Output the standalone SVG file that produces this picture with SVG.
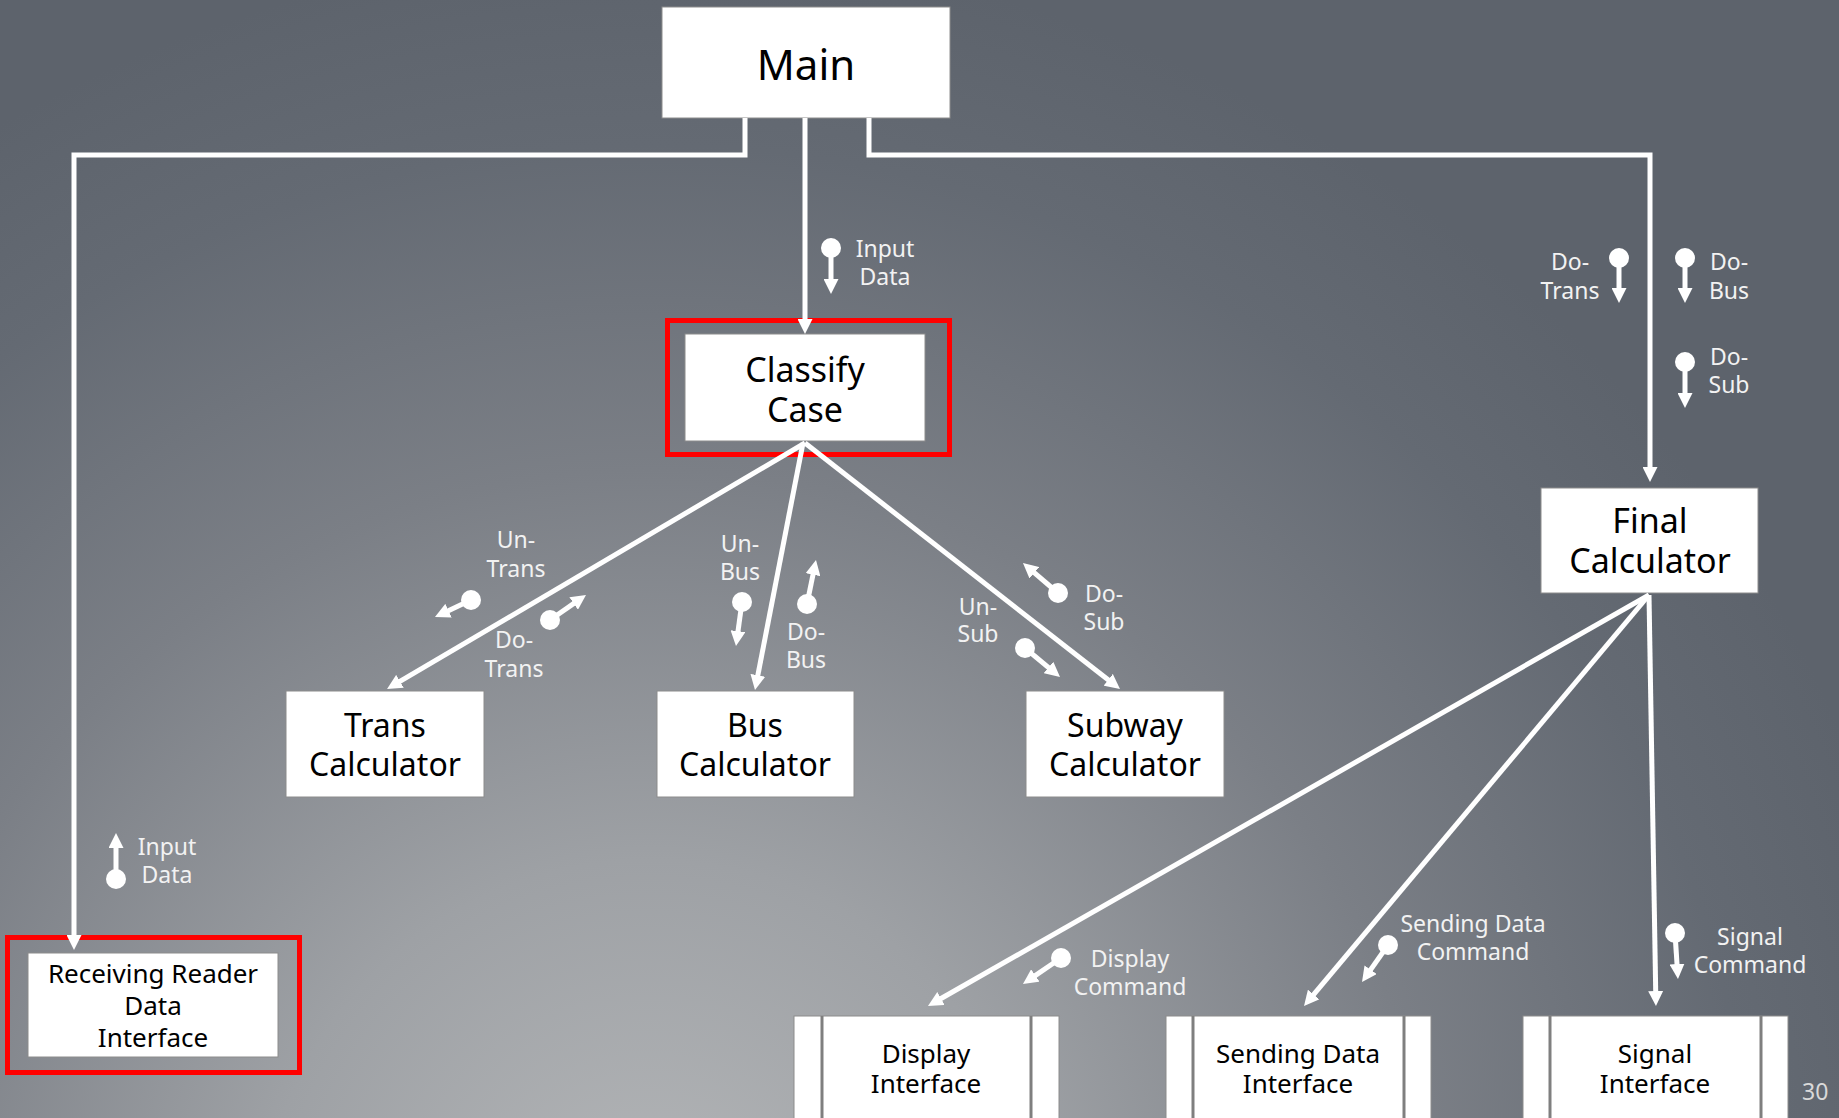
<svg xmlns="http://www.w3.org/2000/svg" width="1839" height="1118" viewBox="0 0 1839 1118">
  <defs>
    <radialGradient id="bg" gradientUnits="userSpaceOnUse" cx="650" cy="1250" r="1300">
      <stop offset="0" stop-color="#b5b7b9"/>
      <stop offset="0.3" stop-color="#9ea1a5"/>
      <stop offset="0.6" stop-color="#7b7f86"/>
      <stop offset="0.85" stop-color="#646a73"/>
      <stop offset="1" stop-color="#5d636c"/>
    </radialGradient>
    <marker id="arrow" viewBox="0 0 10 10" refX="4" refY="5" markerWidth="3" markerHeight="3" markerUnits="strokeWidth" orient="auto">
      <path d="M0,0 L10,5 L0,10 z" fill="#ffffff"/>
    </marker>
    <style>
      .box { fill: #ffffff; stroke: #8c8c8c; stroke-width: 1; }
      .hl { fill: none; stroke: #ff0000; stroke-width: 5; }
      .sep { stroke: #7f7f7f; stroke-width: 3; }
      .conn { fill: none; stroke: #ffffff; stroke-width: 5; }
      .pin { stroke: #ffffff; stroke-width: 5; }
      .dot { fill: #ffffff; }
      .node { font-family: "Noto Sans", "Open Sans", sans-serif; fill: #000000; text-anchor: middle; }
      .lbl { font-family: "Noto Sans", "Open Sans", sans-serif; font-size: 23px; fill: #f2f2f2; text-anchor: middle; }
    </style>
  </defs>

  <rect x="0" y="0" width="1839" height="1118" fill="url(#bg)"/>

  <!-- module boxes -->
  <g id="main">
    <rect class="box" x="662" y="7" width="288" height="111"/>
    <text class="node" x="806" y="80" font-size="42">Main</text>
  </g>

  <g id="classify-case">
    <rect class="hl" x="667.5" y="320.5" width="282" height="134"/>
    <rect class="box" x="685" y="334" width="240" height="107"/>
    <text class="node" x="805" y="382" font-size="34">Classify</text>
    <text class="node" x="805" y="422" font-size="34">Case</text>
  </g>

  <g id="trans-calculator">
    <rect class="box" x="286" y="691" width="198" height="106"/>
    <text class="node" x="385" y="737" font-size="32">Trans</text>
    <text class="node" x="385" y="776" font-size="32">Calculator</text>
  </g>

  <g id="bus-calculator">
    <rect class="box" x="657" y="691" width="197" height="106"/>
    <text class="node" x="755" y="737" font-size="32">Bus</text>
    <text class="node" x="755" y="776" font-size="32">Calculator</text>
  </g>

  <g id="subway-calculator">
    <rect class="box" x="1026" y="691" width="198" height="106"/>
    <text class="node" x="1125" y="737" font-size="32">Subway</text>
    <text class="node" x="1125" y="776" font-size="32">Calculator</text>
  </g>

  <g id="final-calculator">
    <rect class="box" x="1541" y="488" width="217" height="105"/>
    <text class="node" x="1650" y="533" font-size="34">Final</text>
    <text class="node" x="1650" y="573" font-size="34">Calculator</text>
  </g>

  <g id="receiving-reader-data-interface">
    <rect class="hl" x="7.5" y="937.5" width="292" height="135"/>
    <rect class="box" x="28" y="953" width="250" height="104"/>
    <text class="node" x="153" y="983" font-size="26">Receiving Reader</text>
    <text class="node" x="153" y="1015" font-size="26">Data</text>
    <text class="node" x="153" y="1047" font-size="26">Interface</text>
  </g>

  <g id="display-interface">
    <rect class="box" x="794" y="1016" width="265" height="110"/>
    <line class="sep" x1="822" y1="1016" x2="822" y2="1118"/>
    <line class="sep" x1="1031" y1="1016" x2="1031" y2="1118"/>
    <text class="node" x="926" y="1063" font-size="26">Display</text>
    <text class="node" x="926" y="1093" font-size="26">Interface</text>
  </g>

  <g id="sending-data-interface">
    <rect class="box" x="1166" y="1016" width="265" height="110"/>
    <line class="sep" x1="1193" y1="1016" x2="1193" y2="1118"/>
    <line class="sep" x1="1404" y1="1016" x2="1404" y2="1118"/>
    <text class="node" x="1298" y="1063" font-size="26">Sending Data</text>
    <text class="node" x="1298" y="1093" font-size="26">Interface</text>
  </g>

  <g id="signal-interface">
    <rect class="box" x="1523" y="1016" width="265" height="110"/>
    <line class="sep" x1="1550" y1="1016" x2="1550" y2="1118"/>
    <line class="sep" x1="1761" y1="1016" x2="1761" y2="1118"/>
    <text class="node" x="1655" y="1063" font-size="26">Signal</text>
    <text class="node" x="1655" y="1093" font-size="26">Interface</text>
  </g>

  <!-- call connectors -->
  <g id="connectors">
    <path class="conn" d="M805,118 V325" marker-end="url(#arrow)"/>
    <path class="conn" d="M745,118 V155 H74 V941" marker-end="url(#arrow)"/>
    <path class="conn" d="M869,118 V155 H1650 V473" marker-end="url(#arrow)"/>
    <path class="conn" d="M805,443 L394.8,684.4" marker-end="url(#arrow)"/>
    <path class="conn" d="M803,443 L756.7,681.2" marker-end="url(#arrow)"/>
    <path class="conn" d="M805,443 L1112.9,683.5" marker-end="url(#arrow)"/>
    <path class="conn" d="M1649,595 L935.8,1001.5" marker-end="url(#arrow)"/>
    <path class="conn" d="M1649,595 L1309.8,999.1" marker-end="url(#arrow)"/>
    <path class="conn" d="M1649,595 L1655.8,997" marker-end="url(#arrow)"/>
  </g>

  <!-- data couples -->
  <g id="couples">
    <g>
      <line class="pin" x1="831" y1="248" x2="831" y2="285" marker-end="url(#arrow)"/>
      <circle class="dot" cx="831" cy="248" r="10"/>
      <text class="lbl" x="885" y="257">Input</text>
      <text class="lbl" x="885" y="285">Data</text>
    </g>
    <g>
      <line class="pin" x1="116" y1="879" x2="116" y2="842" marker-end="url(#arrow)"/>
      <circle class="dot" cx="116" cy="879" r="10"/>
      <text class="lbl" x="167" y="855">Input</text>
      <text class="lbl" x="167" y="883">Data</text>
    </g>
    <g>
      <line class="pin" x1="471" y1="600" x2="443.1" y2="613.2" marker-end="url(#arrow)"/>
      <circle class="dot" cx="471" cy="600" r="10"/>
      <text class="lbl" x="516" y="548">Un-</text>
      <text class="lbl" x="516" y="577">Trans</text>
    </g>
    <g>
      <line class="pin" x1="550" y1="620" x2="578.6" y2="600.1" marker-end="url(#arrow)"/>
      <circle class="dot" cx="550" cy="620" r="10"/>
      <text class="lbl" x="514" y="648">Do-</text>
      <text class="lbl" x="514" y="677">Trans</text>
    </g>
    <g>
      <line class="pin" x1="742" y1="602" x2="737.2" y2="637.1" marker-end="url(#arrow)"/>
      <circle class="dot" cx="742" cy="602" r="10"/>
      <text class="lbl" x="740" y="552">Un-</text>
      <text class="lbl" x="740" y="580">Bus</text>
    </g>
    <g>
      <line class="pin" x1="807" y1="604" x2="814.2" y2="568.8" marker-end="url(#arrow)"/>
      <circle class="dot" cx="807" cy="604" r="10"/>
      <text class="lbl" x="806" y="640">Do-</text>
      <text class="lbl" x="806" y="668">Bus</text>
    </g>
    <g>
      <line class="pin" x1="1058" y1="593" x2="1029.8" y2="568.9" marker-end="url(#arrow)"/>
      <circle class="dot" cx="1058" cy="593" r="10"/>
      <text class="lbl" x="1104" y="602">Do-</text>
      <text class="lbl" x="1104" y="630">Sub</text>
    </g>
    <g>
      <line class="pin" x1="1025" y1="648" x2="1053.1" y2="671.3" marker-end="url(#arrow)"/>
      <circle class="dot" cx="1025" cy="648" r="10"/>
      <text class="lbl" x="978" y="615">Un-</text>
      <text class="lbl" x="978" y="642">Sub</text>
    </g>
    <g>
      <line class="pin" x1="1619" y1="258" x2="1619" y2="294" marker-end="url(#arrow)"/>
      <circle class="dot" cx="1619" cy="258" r="10"/>
      <text class="lbl" x="1570" y="270">Do-</text>
      <text class="lbl" x="1570" y="299">Trans</text>
    </g>
    <g>
      <line class="pin" x1="1685" y1="258" x2="1685" y2="294" marker-end="url(#arrow)"/>
      <circle class="dot" cx="1685" cy="258" r="10"/>
      <text class="lbl" x="1729" y="270">Do-</text>
      <text class="lbl" x="1729" y="299">Bus</text>
    </g>
    <g>
      <line class="pin" x1="1685" y1="362" x2="1685" y2="399" marker-end="url(#arrow)"/>
      <circle class="dot" cx="1685" cy="362" r="10"/>
      <text class="lbl" x="1729" y="365">Do-</text>
      <text class="lbl" x="1729" y="393">Sub</text>
    </g>
    <g>
      <line class="pin" x1="1061" y1="958" x2="1030.4" y2="978.9" marker-end="url(#arrow)"/>
      <circle class="dot" cx="1061" cy="958" r="10"/>
      <text class="lbl" x="1130" y="967">Display</text>
      <text class="lbl" x="1130" y="995">Command</text>
    </g>
    <g>
      <line class="pin" x1="1388" y1="945" x2="1367.2" y2="974.6" marker-end="url(#arrow)"/>
      <circle class="dot" cx="1388" cy="945" r="10"/>
      <text class="lbl" x="1473" y="932">Sending Data</text>
      <text class="lbl" x="1473" y="960">Command</text>
    </g>
    <g>
      <line class="pin" x1="1675" y1="933" x2="1677.4" y2="970" marker-end="url(#arrow)"/>
      <circle class="dot" cx="1675" cy="933" r="10"/>
      <text class="lbl" x="1750" y="945">Signal</text>
      <text class="lbl" x="1750" y="973">Command</text>
    </g>
  </g>

  <text x="1802" y="1100" font-family="Noto Sans, Open Sans, sans-serif" font-size="23" fill="#d9d9d9">30</text>
</svg>
